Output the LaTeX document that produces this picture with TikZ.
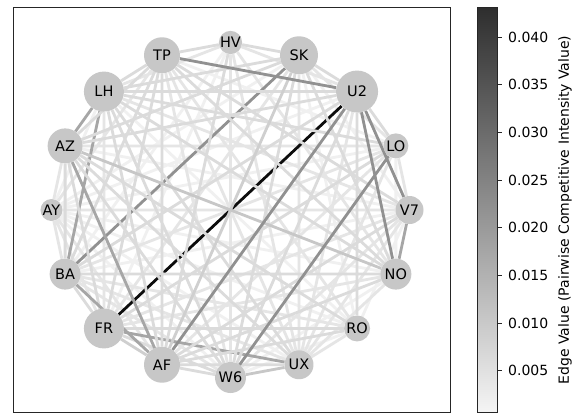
\documentclass[tikz,border=0pt]{standalone}
\usepackage{fontspec}
\setmainfont{DejaVu Sans}
\usetikzlibrary{backgrounds}

\begin{document}
\begin{tikzpicture}[x=1pt,y=1pt,
  city/.style={circle,fill=black!22,inner sep=0pt,font=\fontsize{14.5}{16}\selectfont},
  link/.style={line width=2.8pt},
  dark/.style={link,black!95},
  mid/.style={link,black!43},
  soft/.style={link,black!35},
  pale/.style={link,black!22},
  w1/.style={link,black!6},
  w2/.style={link,black!10},
  w3/.style={link,black!14},
  w4/.style={link,black!19}]
	 \useasboundingbox (-230.5,210) rectangle (348.5,-206);

	 % ring of nodes
	 \node at (90:179pt and 167.5pt) [city,minimum size=20pt] (HV) {HV};
	 \node at (67.5:179pt and 167.5pt) [city,minimum size=38pt] (SK) {SK};
	 \node at (45:179pt and 167.5pt) [city,minimum size=42pt] (U2) {U2};
	 \node at (22.5:179pt and 167.5pt) [city,minimum size=25pt] (LO) {LO};
	 \node at (0:179pt and 167.5pt) [city,minimum size=28pt] (V7) {V7};
	 \node at (-22.5:179pt and 167.5pt) [city,minimum size=31pt] (NO) {NO};
	 \node at (-45:179pt and 167.5pt) [city,minimum size=26pt] (RO) {RO};
	 \node at (-67.5:179pt and 167.5pt) [city,minimum size=29pt] (UX) {UX};
	 \node at (-90:179pt and 167.5pt) [city,minimum size=31pt] (W6) {W6};
	 \node at (-112.5:179pt and 167.5pt) [city,minimum size=36pt] (AF) {AF};
	 \node at (-135:179pt and 167.5pt) [city,minimum size=40pt] (FR) {FR};
	 \node at (-157.5:179pt and 167.5pt) [city,minimum size=31pt] (BA) {BA};
	 \node at (180:179pt and 167.5pt) [city,minimum size=22pt] (AY) {AY};
	 \node at (157.5:179pt and 167.5pt) [city,minimum size=35pt] (AZ) {AZ};
	 \node at (135:179pt and 167.5pt) [city,minimum size=40pt] (LH) {LH};
	 \node at (112.5:179pt and 167.5pt) [city,minimum size=36pt] (TP) {TP};

	 \begin{pgfonlayer}{background}
	 \fill[white] (-230.5,210) rectangle (348.5,-206);
	 % weak links
	 \draw[w1] (HV) -- (BA) (HV) -- (FR) (SK) -- (V7) (SK) -- (RO) (SK) -- (AY)
	   (U2) -- (AY) (LO) -- (NO) (LO) -- (AY) (LO) -- (TP) (V7) -- (RO)
	   (V7) -- (BA) (V7) -- (AZ) (NO) -- (W6) (NO) -- (AY) (RO) -- (W6)
	   (RO) -- (AY) (RO) -- (LH) (UX) -- (AY) (W6) -- (AY) (AY) -- (LH);
	 \draw[w2] (HV) -- (U2) (HV) -- (NO) (HV) -- (UX) (HV) -- (W6) (HV) -- (LH)
	   (SK) -- (LO) (SK) -- (UX) (SK) -- (FR) (U2) -- (UX) (LO) -- (V7)
	   (LO) -- (UX) (LO) -- (AF) (LO) -- (BA) (LO) -- (AZ) (V7) -- (UX)
	   (V7) -- (W6) (V7) -- (FR) (V7) -- (AY) (V7) -- (LH) (NO) -- (UX)
	   (NO) -- (FR) (RO) -- (UX) (RO) -- (BA) (RO) -- (TP) (UX) -- (BA)
	   (UX) -- (TP) (W6) -- (BA) (W6) -- (TP) (AF) -- (AY) (FR) -- (AY)
	   (FR) -- (LH) (BA) -- (AY) (AY) -- (AZ) (AY) -- (TP);
	 \draw[dark] (FR) -- (U2);
	 \draw[mid] (BA) -- (SK);
	 \draw[soft] (LH) -- (BA) (FR) -- (UX);
	 \draw[w3] (HV) -- (SK) (HV) -- (AF) (HV) -- (TP) (SK) -- (U2) (SK) -- (NO)
	   (SK) -- (W6) (SK) -- (AZ) (SK) -- (LH) (U2) -- (LO) (U2) -- (RO)
	   (U2) -- (W6) (U2) -- (BA) (U2) -- (AZ) (U2) -- (LH) (LO) -- (FR)
	   (LO) -- (LH) (V7) -- (AF) (V7) -- (TP) (NO) -- (AF) (NO) -- (BA)
	   (NO) -- (LH) (NO) -- (TP) (RO) -- (AF) (RO) -- (FR) (RO) -- (AZ)
	   (UX) -- (AF) (UX) -- (AZ) (UX) -- (LH) (W6) -- (AF) (W6) -- (FR)
	   (W6) -- (AZ) (W6) -- (LH) (AF) -- (LH) (AF) -- (TP) (FR) -- (BA)
	   (FR) -- (AZ) (FR) -- (TP) (BA) -- (AZ) (BA) -- (TP) (AZ) -- (TP)
	   (LH) -- (TP);
	 \draw[w4] (SK) -- (AF) (FR) -- (AF);
	 % stronger links
	 \draw[pale] (AZ) -- (NO) (W6) -- (UX);
	 \draw[soft] (V7) -- (NO) (LH) -- (AZ) (AZ) -- (AF) (BA) -- (AF);
	 \draw[mid] (TP) -- (U2) (AF) -- (U2) (W6) -- (LO) (U2) -- (NO) (U2) -- (V7);
	 \end{pgfonlayer}

	 % axes frame
	 \draw[black!85,line width=1pt] (-216.5,203) rectangle (219.5,-202);

	 % colour bar
	 \shade[top color=black!82,middle color=black!42,bottom color=black!4] (246.5,203) rectangle (266.5,-202);
	 \draw[black!85,line width=1pt] (246.5,203) rectangle (266.5,-202);
	 \foreach \v/\y in {040/173,035/125.3,030/77.6,025/29.9,020/-17.8,015/-65.5,010/-113.2,005/-160.9} {
	   \draw[black!85,line width=1pt] (266.5,\y) -- (271.5,\y);
	   \node at (277.5,\y) [anchor=west,inner sep=0pt,font=\fontsize{14}{16}\selectfont] (t\v) {0.\v};
	 }
	 \node at (334.5,0) [rotate=90,inner sep=0pt,font=\fontsize{14}{16}\selectfont] (cblabel) {Edge Value (Pairwise Competitive Intensity Value)};

\end{tikzpicture}
\end{document}
